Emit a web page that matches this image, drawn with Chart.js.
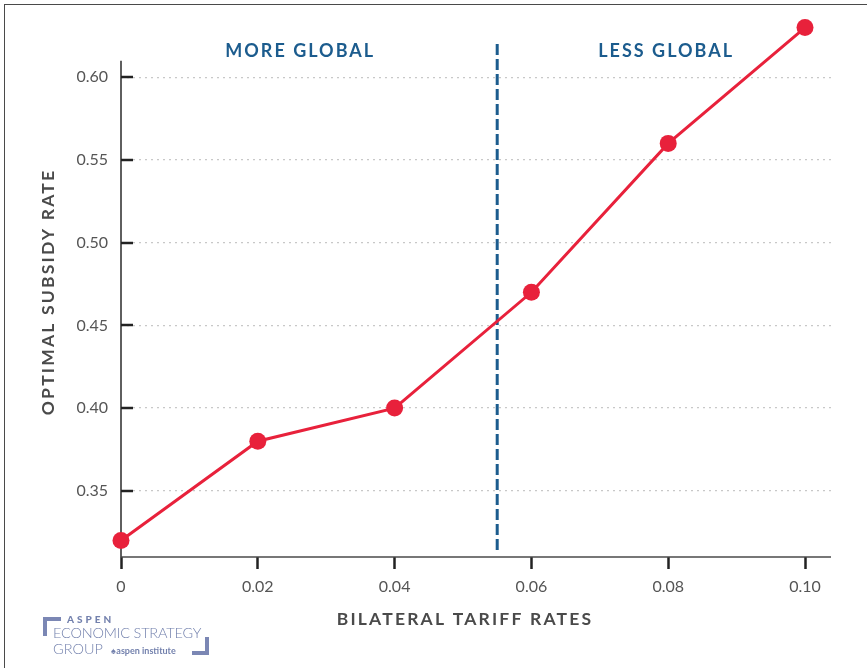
<!DOCTYPE html>
<html>
<head>
<meta charset="utf-8">
<script src="https://cdn.jsdelivr.net/npm/chart.js@4.4.1/dist/chart.umd.min.js"></script>
<style>
  html, body { margin: 0; padding: 0; background: #fff; }
  #wrap { position: relative; width: 867px; height: 668px; overflow: hidden; }
  #frame { position: absolute; left: 4px; top: 4px; right: -10px; bottom: -10px;
           border-top: 1.5px solid #4a4a4a; border-left: 1.5px solid #4a4a4a; pointer-events: none; }
  canvas { position: absolute; left: 0; top: 0; }
  .logo { position: absolute; font-family: Lato, "Open Sans", sans-serif; color: #7381ad; white-space: nowrap; }
  .br { position: absolute; border-color: #7b87b4; border-style: solid; }
</style>
</head>
<body>
<div id="wrap">
  <canvas id="c" width="867" height="668"></canvas>
  <div id="frame"></div>
  <div class="br" style="left:43px;top:617px;width:14px;height:15px;border-width:4px 0 0 4px;"></div>
  <div class="logo" style="left:67px;top:613px;font-size:10px;font-weight:900;letter-spacing:3px;">ASPEN</div>
  <div class="logo" style="left:53px;top:624px;font-size:14.5px;font-weight:300;letter-spacing:-0.2px;">ECONOMIC STRATEGY</div>
  <div class="logo" style="left:53px;top:640px;font-size:14.5px;font-weight:300;">GROUP</div>
  <div class="logo" style="left:111px;top:645px;font-size:9px;font-weight:700;">&#9824;&#8202;aspen institute</div>
  <div class="br" style="left:192px;top:637px;width:13px;height:14px;border-width:0 4px 4px 0;"></div>
</div>
<script>
// Tariff rates on the x axis and the optimal subsidy rate at each
const tariffRates = [0, 0.02, 0.04, 0.06, 0.08, 0.10];
const subsidyRates = [0.32, 0.38, 0.40, 0.47, 0.56, 0.63];

// Axis ticks
const xTicks = [0, 0.02, 0.04, 0.06, 0.08, 0.10];
const yTicks = [0.35, 0.40, 0.45, 0.50, 0.55, 0.60];
const xTickLabels = ['0', '0.02', '0.04', '0.06', '0.08', '0.10'];
const yTickLabels = ['0.35', '0.40', '0.45', '0.50', '0.55', '0.60'];
const yAxisTop = 0.61;   // the drawn y axis line stops here

// Divider between the two regimes and the region captions
const dividerX = 0.055;
const dividerTop = 0.62;
const regionLabels = ['MORE GLOBAL', 'LESS GLOBAL'];
const regionLabelX = [0.0262, 0.0797];
const regionLabelY = 0.6157;

const xTitle = 'BILATERAL TARIFF RATES';
const yTitle = 'OPTIMAL SUBSIDY RATE';

const RED = '#e8213b';
const BLUE = '#1c5c8e';
const AXIS_TEXT = '#555';
const TITLE_TEXT = '#4a4a4a';

const decorations = {
  id: 'decorations',
  beforeDatasetsDraw(chart) {
    const { ctx, chartArea: a, scales: { x, y } } = chart;
    ctx.save();
    // axis lines
    ctx.strokeStyle = '#2a2a2a';
    ctx.lineWidth = 1.5;
    ctx.beginPath();
    ctx.moveTo(a.left, y.getPixelForValue(yAxisTop));
    ctx.lineTo(a.left, a.bottom);
    ctx.stroke();
    ctx.strokeStyle = '#4a4a4a';
    ctx.beginPath();
    ctx.moveTo(a.left, a.bottom);
    ctx.lineTo(a.right, a.bottom);
    ctx.stroke();
    // inward y ticks
    ctx.strokeStyle = '#222';
    ctx.lineWidth = 2.5;
    yTicks.forEach(v => {
      const py = Math.round(y.getPixelForValue(v));
      ctx.beginPath();
      ctx.moveTo(a.left, py);
      ctx.lineTo(a.left + 12, py);
      ctx.stroke();
    });
    // regime divider
    ctx.strokeStyle = BLUE;
    ctx.lineWidth = 3;
    ctx.setLineDash([11, 4]);
    const dx = x.getPixelForValue(dividerX);
    ctx.beginPath();
    ctx.moveTo(dx, y.getPixelForValue(dividerTop));
    ctx.lineTo(dx, a.bottom - 4);
    ctx.stroke();
    ctx.setLineDash([]);
    // region captions
    ctx.fillStyle = BLUE;
    ctx.font = '700 18px Lato, sans-serif';
    ctx.letterSpacing = '2px';
    ctx.textAlign = 'center';
    ctx.textBaseline = 'middle';
    regionLabels.forEach((t, i) => {
      ctx.fillText(t, x.getPixelForValue(regionLabelX[i]), y.getPixelForValue(regionLabelY));
    });
    // axis titles
    ctx.fillStyle = TITLE_TEXT;
    ctx.font = '700 17.5px Lato, sans-serif';
    ctx.letterSpacing = '2.2px';
    ctx.fillText(xTitle, 465, 619);
    ctx.translate(48, 292);
    ctx.rotate(-Math.PI / 2);
    ctx.fillText(yTitle, 0, 0);
    ctx.restore();
  }
};

new Chart(document.getElementById('c'), {
  type: 'line',
  data: {
    datasets: [{
      data: tariffRates.map((t, i) => ({ x: t, y: subsidyRates[i] })),
      borderColor: RED,
      backgroundColor: RED,
      borderWidth: 3,
      pointRadius: 8.5,
      pointHoverRadius: 8.5,
      pointBorderWidth: 0,
      tension: 0,
      clip: false
    }]
  },
  options: {
    responsive: false,
    animation: false,
    events: [],
    layout: { padding: { top: 0, right: 36, left: 0, bottom: 0 } },
    plugins: { legend: { display: false }, tooltip: { enabled: false } },
    scales: {
      x: {
        type: 'linear',
        min: 0,
        max: 0.1038,
        afterBuildTicks: s => { s.ticks = xTicks.map(v => ({ value: v })); },
        afterFit: s => { s.height = 111; },
        border: { display: false },
        grid: { drawOnChartArea: false, drawTicks: true, tickLength: 12, tickWidth: 2.5, tickColor: '#222' },
        ticks: {
          padding: 8,
          color: AXIS_TEXT,
          font: { family: 'Lato, sans-serif', size: 16 },
          callback: (v) => xTickLabels[xTicks.findIndex(t => Math.abs(t - v) < 1e-9)]
        }
      },
      y: {
        type: 'linear',
        min: 0.31,
        max: 0.633,
        afterBuildTicks: s => { s.ticks = yTicks.map(v => ({ value: v })); },
        afterFit: s => { s.width = 121; },
        border: { display: false, dash: [2, 4] },
        grid: { drawTicks: false, color: '#c8c8c8', lineWidth: 1.2 },
        ticks: {
          padding: 13,
          color: AXIS_TEXT,
          font: { family: 'Lato, sans-serif', size: 16 },
          callback: (v) => yTickLabels[yTicks.findIndex(t => Math.abs(t - v) < 1e-9)]
        }
      }
    }
  },
  plugins: [decorations]
});
</script>
</body>
</html>
